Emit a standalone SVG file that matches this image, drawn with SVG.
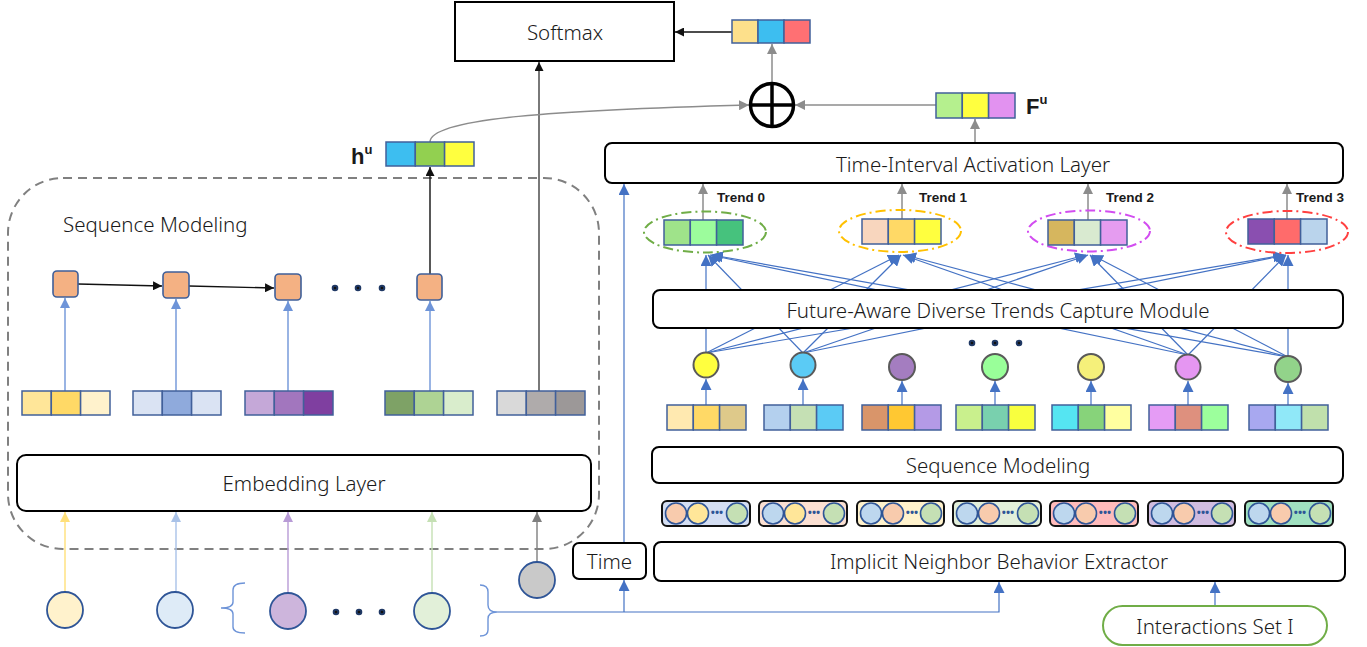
<svg xmlns="http://www.w3.org/2000/svg" width="1367" height="647" viewBox="0 0 1367 647">
<style>
text{font-family:"Noto Sans","Open Sans","Liberation Sans",sans-serif;fill:#1a1a1a}
.lbl{font-size:20.5px;font-weight:300;text-anchor:middle;dominant-baseline:central}
.trend{font-family:"Liberation Sans",Arial,sans-serif;font-weight:bold;font-size:13.5px}
.sym{font-family:"Liberation Sans",Arial,sans-serif;font-weight:bold;font-size:22px}
.box{fill:#fff;stroke:#000;stroke-width:2}
.cell{stroke:#41609A;stroke-width:1.5}
.sq{fill:#F4B183;stroke:#3F5F99;stroke-width:1.6}
.blue{stroke:#4472C4;stroke-width:1.2;fill:none}
.lblue{stroke:#6E94D8;stroke-width:1.4;fill:none}
.gray{stroke:#8C8C8C;stroke-width:1.5;fill:none}
.blk{stroke:#111;stroke-width:1.4;fill:none}
.node{stroke:#5A5A5A;stroke-width:2}
.bc{stroke:#2F5597;stroke-width:1.8}
.pill{stroke:#111;stroke-width:2}
.pc{stroke:#2F5597;stroke-width:1.6}
.dot{fill:#111;stroke:#1F3864;stroke-width:2}
.dd{font-size:11px;text-anchor:middle;font-weight:bold;fill:#2F5597}
</style>
<defs>
<marker id="aB" viewBox="0 0 10 10" refX="10" refY="5" markerWidth="9" markerHeight="9" markerUnits="userSpaceOnUse" orient="auto"><path d="M0,0L10,5L0,10z" fill="#111"/></marker>
<marker id="aG" viewBox="0 0 10 10" refX="10" refY="5" markerWidth="10" markerHeight="10" markerUnits="userSpaceOnUse" orient="auto"><path d="M0,0L10,5L0,10z" fill="#8C8C8C"/></marker>
<marker id="aBl" viewBox="0 0 10 10" refX="10" refY="5" markerWidth="11" markerHeight="11" markerUnits="userSpaceOnUse" orient="auto"><path d="M0,0L10,5L0,10z" fill="#4472C4"/></marker>
<marker id="aLb" viewBox="0 0 10 10" refX="10" refY="5" markerWidth="10" markerHeight="10" markerUnits="userSpaceOnUse" orient="auto"><path d="M0,0L10,5L0,10z" fill="#6E94D8"/></marker>
<marker id="aY" viewBox="0 0 10 10" refX="10" refY="5" markerWidth="10" markerHeight="10" markerUnits="userSpaceOnUse" orient="auto"><path d="M0,0L10,5L0,10z" fill="#FFE07A"/></marker>
<marker id="aLB2" viewBox="0 0 10 10" refX="10" refY="5" markerWidth="10" markerHeight="10" markerUnits="userSpaceOnUse" orient="auto"><path d="M0,0L10,5L0,10z" fill="#A9C2E8"/></marker>
<marker id="aP" viewBox="0 0 10 10" refX="10" refY="5" markerWidth="10" markerHeight="10" markerUnits="userSpaceOnUse" orient="auto"><path d="M0,0L10,5L0,10z" fill="#B89BD6"/></marker>
<marker id="aGr" viewBox="0 0 10 10" refX="10" refY="5" markerWidth="10" markerHeight="10" markerUnits="userSpaceOnUse" orient="auto"><path d="M0,0L10,5L0,10z" fill="#C5E0B4"/></marker>
<marker id="aDg" viewBox="0 0 10 10" refX="10" refY="5" markerWidth="10" markerHeight="10" markerUnits="userSpaceOnUse" orient="auto"><path d="M0,0L10,5L0,10z" fill="#7F7F7F"/></marker>
</defs>

<!-- dashed container -->
<rect x="8" y="178" width="591" height="371" rx="55" fill="none" stroke="#808080" stroke-width="2" stroke-dasharray="9,6"/>

<g id="connectors">
  <g class="blue" marker-end="url(#aBl)">
    <line x1="706" y1="353" x2="706" y2="255"/>
    <line x1="706" y1="353" x2="899" y2="255"/>
    <line x1="706" y1="353" x2="1086" y2="255"/>
    <line x1="706" y1="353" x2="1284" y2="255"/>
    <line x1="803" y1="353" x2="708" y2="255"/>
    <line x1="803" y1="353" x2="901" y2="255"/>
    <line x1="803" y1="353" x2="1088" y2="255"/>
    <line x1="803" y1="353" x2="1286" y2="255"/>
    <line x1="1188" y1="355" x2="710" y2="255"/>
    <line x1="1188" y1="355" x2="903" y2="255"/>
    <line x1="1188" y1="355" x2="1090" y2="255"/>
    <line x1="1188" y1="355" x2="1286" y2="255"/>
    <line x1="1288" y1="357" x2="712" y2="255"/>
    <line x1="1288" y1="357" x2="905" y2="255"/>
    <line x1="1288" y1="357" x2="1092" y2="255"/>
    <line x1="1288" y1="357" x2="1288" y2="255"/>
  </g>
  <g class="lblue" marker-end="url(#aLb)">
    <line x1="65" y1="391" x2="65" y2="298"/>
    <line x1="176" y1="391" x2="176" y2="299"/>
    <line x1="288" y1="391" x2="288" y2="301"/>
    <line x1="430" y1="391" x2="430" y2="301"/>
  </g>
  <g class="blk" marker-end="url(#aB)">
    <line x1="78" y1="284" x2="162" y2="286"/>
    <line x1="189" y1="286" x2="274" y2="288"/>
    <line x1="430" y1="274" x2="430" y2="167"/>
    <line x1="539" y1="391" x2="539" y2="62" stroke="#404040"/>
    <line x1="732" y1="32" x2="675" y2="32"/>
  </g>
  <line x1="65" y1="592" x2="65" y2="512" stroke="#FFE07A" stroke-width="1.4" marker-end="url(#aY)"/>
  <line x1="176" y1="592" x2="176" y2="512" stroke="#A9C2E8" stroke-width="1.4" marker-end="url(#aLB2)"/>
  <line x1="288" y1="593" x2="288" y2="512" stroke="#B89BD6" stroke-width="1.4" marker-end="url(#aP)"/>
  <line x1="432" y1="593" x2="432" y2="512" stroke="#C5E0B4" stroke-width="1.4" marker-end="url(#aGr)"/>
  <line x1="537" y1="563" x2="537" y2="512" stroke="#7F7F7F" stroke-width="1.4" marker-end="url(#aDg)"/>
  <path class="lblue" d="M245,583 Q233,583 233,590 L233,602 Q233,608 221,608 Q233,608 233,614 L233,627 Q233,633 245,633"/>
  <path class="lblue" d="M480,585 Q488,585 488,592 L488,605 Q488,612 497,612 Q488,612 488,619 L488,630 Q488,636 480,636"/>
  <path class="blue" d="M497,612 L999,612 L999,582" marker-end="url(#aBl)"/>
  <line class="blue" x1="624" y1="612" x2="624" y2="580" marker-end="url(#aBl)"/>
  <line class="blue" x1="624" y1="543" x2="624" y2="184" marker-end="url(#aBl)"/>
  <line class="blue" x1="1215" y1="606" x2="1215" y2="582" marker-end="url(#aBl)"/>
  <g class="blue" marker-end="url(#aBl)">
    <line x1="706" y1="405" x2="706" y2="379"/>
    <line x1="803" y1="405" x2="803" y2="379"/>
    <line x1="902" y1="405" x2="902" y2="381"/>
    <line x1="995" y1="405" x2="995" y2="381"/>
    <line x1="1091" y1="405" x2="1091" y2="381"/>
    <line x1="1188" y1="405" x2="1188" y2="381"/>
    <line x1="1288" y1="405" x2="1288" y2="383"/>
  </g>
  <g class="gray" marker-end="url(#aG)">
    <line x1="703" y1="220" x2="703" y2="184"/>
    <line x1="902" y1="219" x2="902" y2="184"/>
    <line x1="1088" y1="220" x2="1088" y2="184"/>
    <line x1="1287" y1="219" x2="1287" y2="184"/>
    <line x1="975" y1="143" x2="975" y2="119"/>
    <line x1="936" y1="105" x2="795" y2="105"/>
    <line x1="772" y1="83" x2="772" y2="44"/>
    <path d="M430,142 C430,118 560,110 749,105"/>
  </g>
</g>

<g id="softmax"><rect class="box" x="455" y="2" width="219" height="59"/><text class="lbl" x="565" y="32">Softmax</text></g>

<g id="out-vec">
  <rect class="cell" x="732" y="20" width="26" height="23" fill="#FDE08B"/>
  <rect class="cell" x="758" y="20" width="26" height="23" fill="#3DBEF0"/>
  <rect class="cell" x="784" y="20" width="26" height="23" fill="#FF7073"/>
</g>

<g id="plus">
  <circle cx="772" cy="105" r="21.5" fill="#fff" stroke="#000" stroke-width="3.5"/>
  <line x1="750.5" y1="105" x2="793.5" y2="105" stroke="#000" stroke-width="3.5"/>
  <line x1="772" y1="83.5" x2="772" y2="126.5" stroke="#000" stroke-width="3.5"/>
</g>

<g id="hu">
  <rect class="cell" x="386" y="142" width="29.3" height="24" fill="#3DBEF0"/>
  <rect class="cell" x="415.3" y="142" width="29.3" height="24" fill="#92D050"/>
  <rect class="cell" x="444.6" y="142" width="29.4" height="24" fill="#FFFF3F"/>
  <text class="sym" x="351" y="164">h<tspan font-size="13" dy="-10">u</tspan></text>
</g>

<g id="fu">
  <rect class="cell" x="936" y="93" width="26.3" height="25" fill="#B5F08E"/>
  <rect class="cell" x="962.3" y="93" width="26.3" height="25" fill="#FFFF3F"/>
  <rect class="cell" x="988.6" y="93" width="26.4" height="25" fill="#E292F0"/>
  <text class="sym" x="1026" y="114">F<tspan font-size="13" dy="-10">u</tspan></text>
</g>

<g id="tial"><rect class="box" x="605" y="143" width="738" height="40" rx="7"/><text class="lbl" x="973" y="164">Time-Interval Activation Layer</text></g>

<g id="seq-left">
  <text x="63" y="232" font-size="20.5" font-weight="300">Sequence Modeling</text>
  <rect class="sq" x="53" y="271" width="25" height="26" rx="4"/>
  <rect class="sq" x="163" y="272" width="26" height="26" rx="4"/>
  <rect class="sq" x="275" y="274" width="26" height="26" rx="4"/>
  <rect class="sq" x="417" y="274" width="25" height="26" rx="4"/>
  <circle class="dot" cx="335" cy="288" r="2.3"/>
  <circle class="dot" cx="358" cy="288" r="2.3"/>
  <circle class="dot" cx="382" cy="288" r="2.3"/>
</g>

<g id="left-vectors">
  <rect class="cell" x="22" y="391" width="29.3" height="24" fill="#FFE699"/>
  <rect class="cell" x="51.3" y="391" width="29.3" height="24" fill="#FFD966"/>
  <rect class="cell" x="80.6" y="391" width="29.4" height="24" fill="#FFF2CC"/>
  <rect class="cell" x="133" y="391" width="29.3" height="24" fill="#DAE3F3"/>
  <rect class="cell" x="162.3" y="391" width="29.3" height="24" fill="#8FAADC"/>
  <rect class="cell" x="191.6" y="391" width="29.4" height="24" fill="#DAE3F3"/>
  <rect class="cell" x="245" y="391" width="29.3" height="24" fill="#C5A8D8"/>
  <rect class="cell" x="274.3" y="391" width="29.3" height="24" fill="#A276BE"/>
  <rect class="cell" x="303.6" y="391" width="29.4" height="24" fill="#7F3FA0"/>
  <rect class="cell" x="385" y="391" width="29.3" height="24" fill="#7EA266"/>
  <rect class="cell" x="414.3" y="391" width="29.3" height="24" fill="#AED394"/>
  <rect class="cell" x="443.6" y="391" width="29.4" height="24" fill="#D9EDCC"/>
  <rect class="cell" x="497" y="391" width="29.3" height="24" fill="#D9D9D9"/>
  <rect class="cell" x="526.3" y="391" width="29.3" height="24" fill="#AFABAB"/>
  <rect class="cell" x="555.6" y="391" width="29.4" height="24" fill="#9C9898"/>
</g>

<g id="embedding"><rect class="box" x="17" y="455" width="574" height="56" rx="9"/><text class="lbl" x="304" y="483">Embedding Layer</text></g>

<g id="inputs">
  <ellipse class="bc" cx="65" cy="610" rx="18" ry="18" fill="#FFF2CC"/>
  <ellipse class="bc" cx="175" cy="610" rx="18" ry="18" fill="#DEEBF7"/>
  <ellipse class="bc" cx="288" cy="611" rx="18" ry="18" fill="#CDB5DC"/>
  <ellipse class="bc" cx="432" cy="611" rx="18" ry="18" fill="#E2F0D9"/>
  <ellipse class="bc" cx="537" cy="580" rx="18" ry="18" fill="#C9C9C9"/>
  <circle class="dot" cx="336" cy="612" r="2.3"/>
  <circle class="dot" cx="359" cy="612" r="2.3"/>
  <circle class="dot" cx="382" cy="612" r="2.3"/>
</g>

<g id="trends">
  <ellipse cx="705" cy="232" rx="61" ry="20.5" fill="none" stroke="#70AD47" stroke-width="2" stroke-dasharray="10,4,2,4"/>
  <rect class="cell" x="664" y="220" width="26.3" height="25" fill="#9FE38A"/>
  <rect class="cell" x="690.3" y="220" width="26.3" height="25" fill="#9CFC9C"/>
  <rect class="cell" x="716.6" y="220" width="26.4" height="25" fill="#46C27D"/>
  <text class="trend" x="717" y="202">Trend 0</text>

  <ellipse cx="900" cy="231" rx="61" ry="21" fill="none" stroke="#FFC000" stroke-width="2" stroke-dasharray="10,4,2,4"/>
  <rect class="cell" x="862" y="219" width="26.3" height="25" fill="#F8D6BE"/>
  <rect class="cell" x="888.3" y="219" width="26.3" height="25" fill="#FFD966"/>
  <rect class="cell" x="914.6" y="219" width="26.4" height="25" fill="#FFFF3F"/>
  <text class="trend" x="919" y="202">Trend 1</text>

  <ellipse cx="1089" cy="231" rx="61" ry="20.5" fill="none" stroke="#D24DF0" stroke-width="2" stroke-dasharray="10,4,2,4"/>
  <rect class="cell" x="1048" y="220" width="26.3" height="25" fill="#D6B65E"/>
  <rect class="cell" x="1074.3" y="220" width="26.3" height="25" fill="#D9EAD0"/>
  <rect class="cell" x="1100.6" y="220" width="26.4" height="25" fill="#E59CF0"/>
  <text class="trend" x="1106" y="202">Trend 2</text>

  <ellipse cx="1287" cy="232" rx="61" ry="21" fill="none" stroke="#FF4040" stroke-width="2" stroke-dasharray="10,4,2,4"/>
  <rect class="cell" x="1248" y="219" width="26.3" height="25" fill="#8A4FB0"/>
  <rect class="cell" x="1274.3" y="219" width="26.3" height="25" fill="#FF6B6B"/>
  <rect class="cell" x="1300.6" y="219" width="26.4" height="25" fill="#BAD4EC"/>
  <text class="trend" x="1296" y="202">Trend 3</text>
</g>

<g id="fadt"><rect class="box" x="653" y="290" width="690" height="38" rx="7"/><text class="lbl" x="998" y="310">Future-Aware Diverse Trends Capture Module</text></g>

<g id="item-nodes">
  <circle class="node" cx="706" cy="365" r="12.5" fill="#FFFF3F"/>
  <circle class="node" cx="803" cy="365" r="12.5" fill="#5BCBF5"/>
  <circle class="node" cx="902" cy="367" r="13" fill="#A47DC0"/>
  <circle class="node" cx="995" cy="367" r="13" fill="#99FF99"/>
  <circle class="node" cx="1091" cy="367" r="13" fill="#F5F07A"/>
  <circle class="node" cx="1188" cy="367" r="12.5" fill="#E596F2"/>
  <circle class="node" cx="1288" cy="369" r="13" fill="#92D38A"/>
  <circle class="dot" cx="972" cy="343" r="2.3"/>
  <circle class="dot" cx="995" cy="343" r="2.3"/>
  <circle class="dot" cx="1019" cy="343" r="2.3"/>
</g>

<g id="right-vectors">
  <rect class="cell" x="667" y="405" width="26.3" height="25" fill="#FFE9B0"/>
  <rect class="cell" x="693.3" y="405" width="26.3" height="25" fill="#FFD966"/>
  <rect class="cell" x="719.6" y="405" width="26.4" height="25" fill="#DEC98A"/>
  <rect class="cell" x="764" y="405" width="26.3" height="25" fill="#B4D0EE"/>
  <rect class="cell" x="790.3" y="405" width="26.3" height="25" fill="#C5E0B4"/>
  <rect class="cell" x="816.6" y="405" width="26.4" height="25" fill="#5BCBF5"/>
  <rect class="cell" x="862" y="405" width="26.3" height="25" fill="#D9956A"/>
  <rect class="cell" x="888.3" y="405" width="26.3" height="25" fill="#FFC832"/>
  <rect class="cell" x="914.6" y="405" width="26.4" height="25" fill="#B49AE6"/>
  <rect class="cell" x="956" y="405" width="26.3" height="25" fill="#C9F08D"/>
  <rect class="cell" x="982.3" y="405" width="26.3" height="25" fill="#79D0AE"/>
  <rect class="cell" x="1008.6" y="405" width="26.4" height="25" fill="#F8FF3F"/>
  <rect class="cell" x="1052" y="405" width="26.3" height="25" fill="#55E5F2"/>
  <rect class="cell" x="1078.3" y="405" width="26.3" height="25" fill="#87D37A"/>
  <rect class="cell" x="1104.6" y="405" width="26.4" height="25" fill="#FFFFA0"/>
  <rect class="cell" x="1149" y="405" width="26.3" height="25" fill="#E59CF5"/>
  <rect class="cell" x="1175.3" y="405" width="26.3" height="25" fill="#DE907E"/>
  <rect class="cell" x="1201.6" y="405" width="26.4" height="25" fill="#9CFF9C"/>
  <rect class="cell" x="1249" y="405" width="26.3" height="25" fill="#A8A8F0"/>
  <rect class="cell" x="1275.3" y="405" width="26.3" height="25" fill="#90E8F8"/>
  <rect class="cell" x="1301.6" y="405" width="26.4" height="25" fill="#C0E0AC"/>
</g>

<g id="seq-right"><rect class="box" x="652" y="447" width="691" height="36" rx="7"/><text class="lbl" x="998" y="465">Sequence Modeling</text></g>

<g id="neighbor-seqs">
  <g transform="translate(662,501)">
    <rect class="pill" x="0" y="0" width="88" height="25" rx="5" fill="#D4DEF2"/>
    <circle class="pc" cx="14" cy="12.5" r="10.5" fill="#F8CBAD"/><circle class="pc" cx="36" cy="12.5" r="10.5" fill="#FFE699"/>
    <text class="dd" x="55" y="15">•••</text>
    <circle class="pc" cx="75" cy="12.5" r="10.5" fill="#C5E0B4"/>
  </g>
  <g transform="translate(759,501)">
    <rect class="pill" x="0" y="0" width="88" height="25" rx="5" fill="#FBE0D2"/>
    <circle class="pc" cx="14" cy="12.5" r="10.5" fill="#BDD7EE"/><circle class="pc" cx="36" cy="12.5" r="10.5" fill="#FFE699"/>
    <text class="dd" x="55" y="15">•••</text>
    <circle class="pc" cx="75" cy="12.5" r="10.5" fill="#C5E0B4"/>
  </g>
  <g transform="translate(857,501)">
    <rect class="pill" x="0" y="0" width="87" height="25" rx="5" fill="#FFF2CC"/>
    <circle class="pc" cx="14" cy="12.5" r="10.5" fill="#BDD7EE"/><circle class="pc" cx="36" cy="12.5" r="10.5" fill="#F8CBAD"/>
    <text class="dd" x="55" y="15">•••</text>
    <circle class="pc" cx="74" cy="12.5" r="10.5" fill="#C5E0B4"/>
  </g>
  <g transform="translate(953,501)">
    <rect class="pill" x="0" y="0" width="88" height="25" rx="5" fill="#E2EFDA"/>
    <circle class="pc" cx="14" cy="12.5" r="10.5" fill="#BDD7EE"/><circle class="pc" cx="36" cy="12.5" r="10.5" fill="#F8CBAD"/>
    <text class="dd" x="55" y="15">•••</text>
    <circle class="pc" cx="75" cy="12.5" r="10.5" fill="#C5E0B4"/>
  </g>
  <g transform="translate(1050,501)">
    <rect class="pill" x="0" y="0" width="88" height="25" rx="5" fill="#FFBBBB"/>
    <circle class="pc" cx="14" cy="12.5" r="10.5" fill="#BDD7EE"/><circle class="pc" cx="36" cy="12.5" r="10.5" fill="#F8CBAD"/>
    <text class="dd" x="55" y="15">•••</text>
    <circle class="pc" cx="75" cy="12.5" r="10.5" fill="#C5E0B4"/>
  </g>
  <g transform="translate(1148,501)">
    <rect class="pill" x="0" y="0" width="87" height="25" rx="5" fill="#D0BCE0"/>
    <circle class="pc" cx="14" cy="12.5" r="10.5" fill="#BDD7EE"/><circle class="pc" cx="36" cy="12.5" r="10.5" fill="#F8CBAD"/>
    <text class="dd" x="55" y="15">•••</text>
    <circle class="pc" cx="74" cy="12.5" r="10.5" fill="#C5E0B4"/>
  </g>
  <g transform="translate(1245,501)">
    <rect class="pill" x="0" y="0" width="88" height="25" rx="5" fill="#A0E0C0"/>
    <circle class="pc" cx="14" cy="12.5" r="10.5" fill="#BDD7EE"/><circle class="pc" cx="36" cy="12.5" r="10.5" fill="#F8CBAD"/>
    <text class="dd" x="55" y="15">•••</text>
    <circle class="pc" cx="75" cy="12.5" r="10.5" fill="#C5E0B4"/>
  </g>
</g>

<g id="time"><rect class="box" x="573" y="543" width="73" height="36" rx="6"/><text class="lbl" x="609.5" y="561">Time</text></g>
<g id="inbe"><rect class="box" x="654" y="542" width="691" height="39" rx="7"/><text class="lbl" x="999" y="561">Implicit Neighbor Behavior Extractor</text></g>
<g id="interactions"><rect x="1103" y="606" width="224" height="39" rx="19.5" fill="#fff" stroke="#70AD47" stroke-width="2"/><text class="lbl" x="1215" y="626">Interactions Set I</text></g>
</svg>
